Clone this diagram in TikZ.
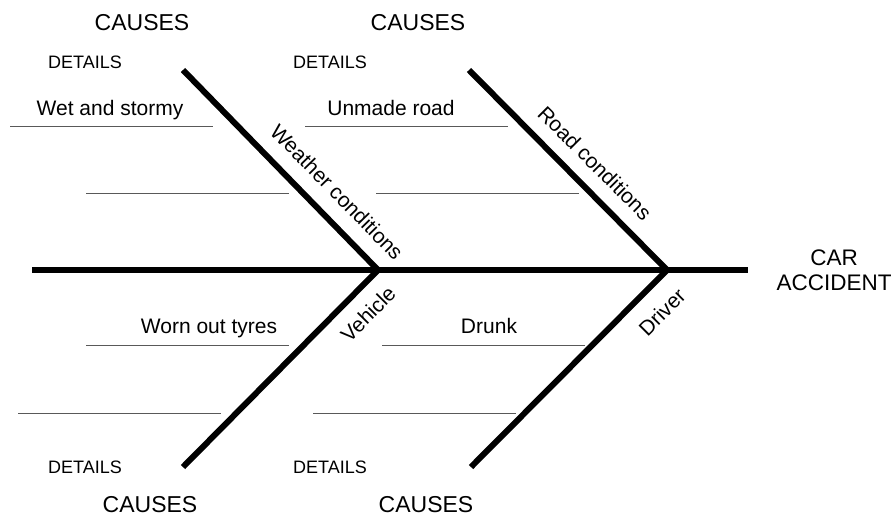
\documentclass[tikz,border=0pt]{standalone}
\usepackage{fontspec}
\setmainfont{Liberation Sans}

\begin{document}
\begin{tikzpicture}[x=1pt,y=-1pt,
    spine/.style={line width=6pt},
    detail/.style={black!65,line width=1pt},
    causes/.style={font=\fontsize{23}{27}\selectfont},
    details/.style={font=\fontsize{18}{21}\selectfont},
    item/.style={font=\fontsize{21}{25}\selectfont,anchor=base},
    bonelabel/.style={font=\fontsize{21}{25}\selectfont}]

    \useasboundingbox (0,0) rectangle (896,517);

    \coordinate (tail) at (32,270);
    \coordinate (head) at (748,270);
    \coordinate (j1) at (378,270);
    \coordinate (j2) at (667,270);
    \coordinate (b1) at (183,70);
    \coordinate (b2) at (469,70);
    \coordinate (b3) at (183,467);
    \coordinate (b4) at (471,467);

    % spine and bones
    \draw[spine] (tail) -- (head);
    \draw[spine] (b1) -- (j1);
    \draw[spine] (b2) -- (j2);
    \draw[spine] (b3) -- (j1);
    \draw[spine] (b4) -- (j2);

    \node[align=center,font=\fontsize{22.5}{25}\selectfont] (effect) at (834,270) {CAR\\ACCIDENT};

    % detail lines
    \foreach \x/\y in {10/126,86/193,305/126,376/193,86/345,18/413,382/345,313/413} {
        \draw[detail] (\x,\y) -- ++(203,0);
    }

    % causes
    \node[bonelabel,rotate=-45.7] (weather) at (337,192) {Weather conditions};
    \node[bonelabel,rotate=-45] (road) at (595,163) {Road conditions};
    \node[bonelabel,rotate=45.3] (vehicle) at (368,314) {Vehicle};
    \node[bonelabel,rotate=45] (driver) at (662,312) {Driver};

    \node[causes] (c1) at (142,23) {CAUSES};
    \node[causes] (c2) at (418,23) {CAUSES};
    \node[causes] (c3) at (150,505) {CAUSES};
    \node[causes] (c4) at (426,505) {CAUSES};

    \node[details] (d1) at (85,62) {DETAILS};
    \node[details] (d2) at (330,62) {DETAILS};
    \node[details] (d3) at (85,467) {DETAILS};
    \node[details] (d4) at (330,467) {DETAILS};

    % details
    \node[item] (wet) at (110,115) {Wet and stormy};
    \node[item] (unmade) at (391,115) {Unmade road};
    \node[item] (tyres) at (209,333) {Worn out tyres};
    \node[item] (drunk) at (489,333) {Drunk};

\end{tikzpicture}
\end{document}
